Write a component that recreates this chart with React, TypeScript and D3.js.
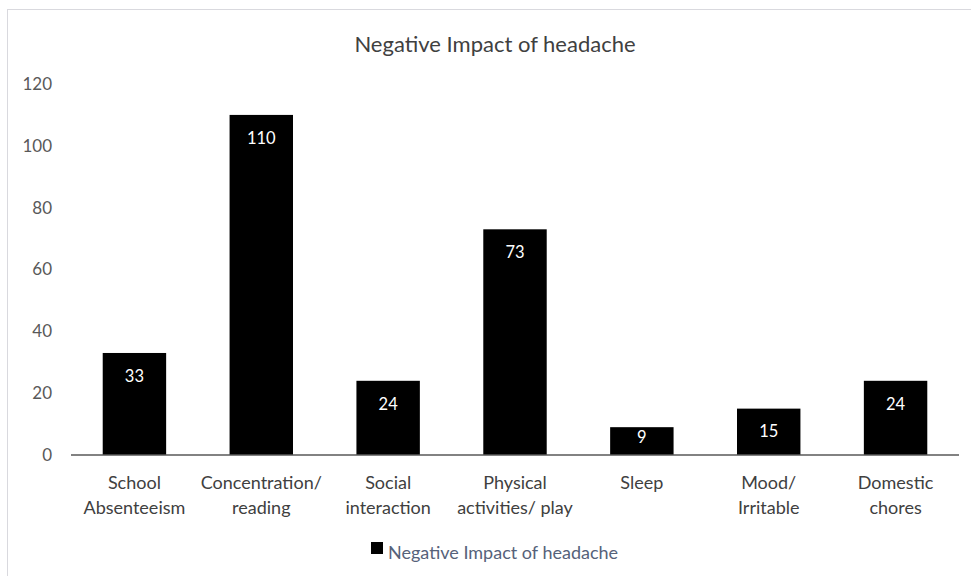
import React from "react";
import * as d3 from "d3";

const categories = [
	["School", "Absenteeism"],
	["Concentration/", "reading"],
	["Social", "interaction"],
	["Physical", "activities/ play"],
	["Sleep"],
	["Mood/", "Irritable"],
	["Domestic", "chores"],
];
const values = [33, 110, 24, 73, 9, 15, 24];
const yTicks = [0, 20, 40, 60, 80, 100, 120];
const title = "Negative Impact of headache";
const seriesName = "Negative Impact of headache";

const W = 971;
const H = 576;
const FONT = "Lato, 'Open Sans', sans-serif";

const App = () => {
	const margin = { top: 84, right: 12, bottom: 121, left: 71 };
	const x = d3
		.scaleBand<number>()
		.domain(d3.range(values.length))
		.range([margin.left, W - margin.right])
		.paddingInner(0.5)
		.paddingOuter(0.25);
	const y = d3.scaleLinear().domain([0, 120]).range([H - margin.bottom, margin.top]);
	const base = y(0);

	return (
		<svg width={W} height={H} style={{ position: "absolute", left: 0, top: 0, background: "#fff" }} fontFamily={FONT}>
			<rect x={7.5} y={9.5} width={W + 10} height={H + 10} fill="#fff" stroke="#d9d9de" strokeWidth={1} />
			<text x={495} y={52} textAnchor="middle" fontSize={22} fill="#404040">
				{title}
			</text>
			{yTicks.map((t) => (
				<text key={t} x={52} y={y(t)} dy="0.35em" textAnchor="end" fontSize={17} fill="#595959">
					{t}
				</text>
			))}
			{values.map((v, i) => {
				const top = y(v);
				const ly = Math.min(top + 23, base - 18);
				return (
					<g key={i}>
						<rect x={x(i)} y={top} width={x.bandwidth()} height={base - top} fill="#000" />
						<text x={x(i)! + x.bandwidth() / 2} y={ly} dy="0.35em" textAnchor="middle" fontSize={16.5} fill="#fff">
							{v}
						</text>
					</g>
				);
			})}
			<line x1={margin.left} x2={W - margin.right} y1={base} y2={base} stroke="#595959" strokeWidth={1.5} />
			{categories.map((lines, i) => (
				<text key={i} x={x(i)! + x.bandwidth() / 2} textAnchor="middle" fontSize={18} fill="#404040">
					{lines.map((l, j) => (
						<tspan key={j} x={x(i)! + x.bandwidth() / 2} y={489 + j * 25}>
							{l}
						</tspan>
					))}
				</text>
			))}
			<rect x={371} y={542} width={12} height={12} fill="#000" />
			<text x={388} y={559} fontSize={18} fill="#56627a">
				{seriesName}
			</text>
		</svg>
	);
};

export default App;
